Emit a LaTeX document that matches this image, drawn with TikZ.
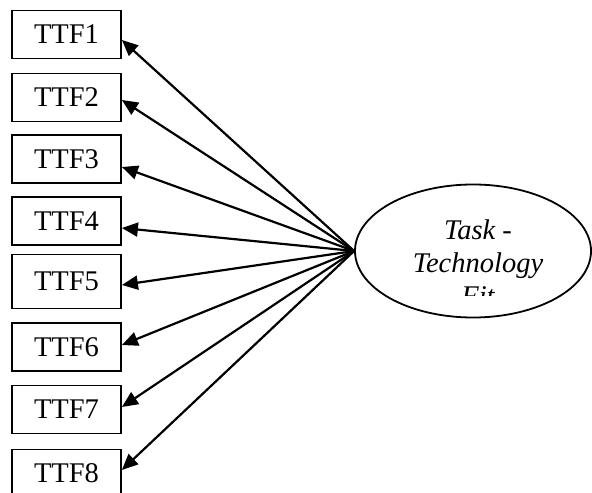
\documentclass[tikz,border=0pt]{standalone}
\usepackage{fontspec}
\setmainfont{Liberation Serif}
\usetikzlibrary{arrows.meta,shapes.geometric}
\tikzset{
  itembox/.style={draw, line width=1.8bp, minimum width=109bp, minimum height=48bp,
    inner sep=0pt, font=\fontsize{28.5bp}{33bp}\selectfont},
  factor/.style={draw, ellipse, line width=1.8bp, minimum width=236bp, minimum height=133bp, inner sep=0pt},
  loading/.style={line width=2.2bp, -{Triangle[length=16bp,width=14bp]}}
}
\begin{document}
\begin{tikzpicture}[x=1bp,y=-1bp]
\useasboundingbox (0,0) rectangle (592,493);
% indicator boxes
\node[itembox] (t1) at (66.5,34.5) {TTF1};
\node[itembox] (t2) at (66.5,97.5) {TTF2};
\node[itembox] (t3) at (66.5,159) {TTF3};
\node[itembox] (t4) at (66.5,221) {TTF4};
\node[itembox, minimum height=54bp] (t5) at (66.5,281.5) {TTF5};
\node[itembox] (t6) at (66.5,347) {TTF6};
\node[itembox] (t7) at (66.5,409.5) {TTF7};
\node[itembox] (t8) at (66.5,473.5) {TTF8};
% latent construct
\node[factor] (fit) at (473,251) {};
\begin{scope}
  \clip (360,180) rectangle (590,295);
  \node[align=center, anchor=base, font=\fontsize{28.5bp}{33bp}\selectfont\itshape] (lbl) at (478,305) {Task -\\Technology\\Fit};
\end{scope}
% loadings
\draw[loading] (fit.west) -- ([yshift=-5.5bp]t1.east);
\draw[loading] (fit.west) -- ([yshift=-2.5bp]t2.east);
\draw[loading] (fit.west) -- ([yshift=-8bp]t3.east);
\draw[loading] (fit.west) -- ([yshift=-7bp]t4.east);
\draw[loading] (fit.west) -- ([yshift=-3.5bp]t5.east);
\draw[loading] (fit.west) -- ([yshift=2bp]t6.east);
\draw[loading] (fit.west) -- ([yshift=2.5bp]t7.east);
\draw[loading] (fit.west) -- ([yshift=3.5bp]t8.east);
\end{tikzpicture}
\end{document}
